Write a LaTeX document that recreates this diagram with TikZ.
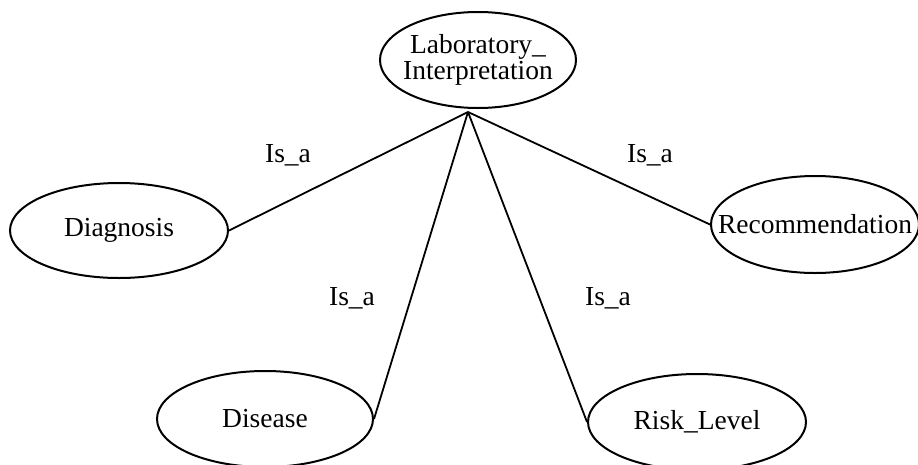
\documentclass[tikz,border=0pt]{standalone}
\usepackage{fontspec}
\setmainfont{Liberation Serif}
\usetikzlibrary{shapes.geometric}
\begin{document}
\begin{tikzpicture}[x=1pt,y=-1pt,
  concept/.style={draw, ellipse, line width=2pt, inner sep=0pt},
  relation/.style={line width=1.8pt},
  reltext/.style={font=\fontsize{27.5}{27.5}\selectfont, inner sep=0pt, anchor=base}]
\useasboundingbox (0,0) rectangle (918,464);
\begin{scope}
\clip (0,0) rectangle (918,464);
% concepts
\node[concept, minimum width=196pt, minimum height=96pt,
  label={[font=\fontsize{27.5}{26}\selectfont, align=center]center:Laboratory\_\\Interpretation}]
  (lab) at (478,60) {};
\node[concept, minimum width=218pt, minimum height=95pt,
  label={[font=\fontsize{27.5}{27.5}\selectfont]center:Diagnosis}] (diag) at (119,230.5) {};
\node[concept, minimum width=208pt, minimum height=97pt,
  label={[font=\fontsize{27.5}{27.5}\selectfont]center:Recommendation}] (rec) at (815,224.5) {};
\node[concept, minimum width=216pt, minimum height=96pt,
  label={[font=\fontsize{27.5}{27.5}\selectfont]center:Disease}] (dis) at (265,419) {};
\node[concept, minimum width=218pt, minimum height=96pt,
  label={[font=\fontsize{27.5}{27.5}\selectfont]center:Risk\_Level}] (risk) at (697,422) {};
% relations meet just below the parent concept
\coordinate (hub) at (468,112);
\draw[relation] (hub) -- (diag.east);
\draw[relation] (hub) -- (rec.west);
\draw[relation] (hub) -- (dis.east);
\draw[relation] (hub) -- (risk.west);
% relation labels
\node[reltext] (l1) at (288,162) {Is\_a};
\node[reltext] (l2) at (650,162) {Is\_a};
\node[reltext] (l3) at (352,305) {Is\_a};
\node[reltext] (l4) at (608,305) {Is\_a};
\end{scope}
\end{tikzpicture}
\end{document}
